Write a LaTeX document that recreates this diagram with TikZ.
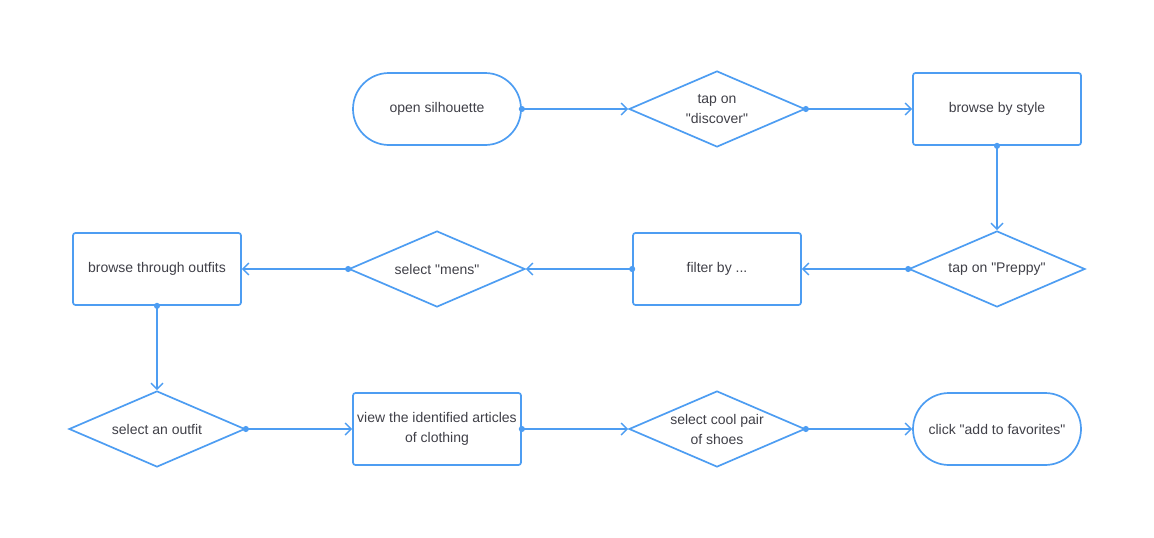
\documentclass[tikz,border=0pt]{standalone}
\usepackage{fontspec}
\setmainfont{Liberation Sans}[Ligatures=TeXOff]
\usetikzlibrary{shapes.geometric,arrows.meta}
\definecolor{flowblue}{RGB}{77,157,242}
\definecolor{flowtext}{RGB}{64,64,72}
\tikzset{
  base/.style={draw=flowblue, line width=1.7pt, fill=white, text=flowtext,
    font=\fontsize{14}{20}\selectfont, align=center, inner sep=0pt},
  terminal/.style={base, rounded corners=36pt, minimum width=168pt, minimum height=72pt},
  process/.style={base, rounded corners=2.5pt, minimum width=168pt, minimum height=72pt},
  decision/.style={base, diamond, shape aspect=2.3158, minimum width=176pt, minimum height=76pt},
  conn/.style={draw=flowblue, line width=1.7pt, shorten <=-3pt,
    {Circle[length=6pt,width=6pt]}-{Straight Barb[length=6pt,width=12pt,line width=1.4pt]}}
}
\begin{document}
\begin{tikzpicture}[x=1pt,y=-1pt]
\useasboundingbox (0,0) rectangle (1154,538);
% first row
\node[terminal] (open) at (437,109) {open silhouette};
\node[decision] (discover) at (717,109) {tap on\\"discover"};
\node[process]  (style) at (997,109) {browse by style};
% second row
\node[decision] (preppy) at (997,269) {tap on "Preppy"};
\node[process]  (filter) at (717,269) {filter by ...};
\node[decision] (mens) at (437,269) {select "mens"};
\node[process]  (outfits) at (157,269) {browse through outfits};
% third row
\node[decision] (outfit) at (157,429) {select an outfit};
\node[process]  (view) at (437,429) {view the identified articles\\of clothing};
\node[decision] (shoes) at (717,429) {select cool pair\\of shoes};
\node[terminal] (fav) at (997,429) {click "add to favorites"};
% connectors
\draw[conn] (open.east) -- (discover.west);
\draw[conn] (discover.east) -- (style.west);
\draw[conn] (style.south) -- (preppy.north);
\draw[conn] (preppy.west) -- (filter.east);
\draw[conn] (filter.west) -- (mens.east);
\draw[conn] (mens.west) -- (outfits.east);
\draw[conn] (outfits.south) -- (outfit.north);
\draw[conn] (outfit.east) -- (view.west);
\draw[conn] (view.east) -- (shoes.west);
\draw[conn] (shoes.east) -- (fav.west);
\end{tikzpicture}
\end{document}
